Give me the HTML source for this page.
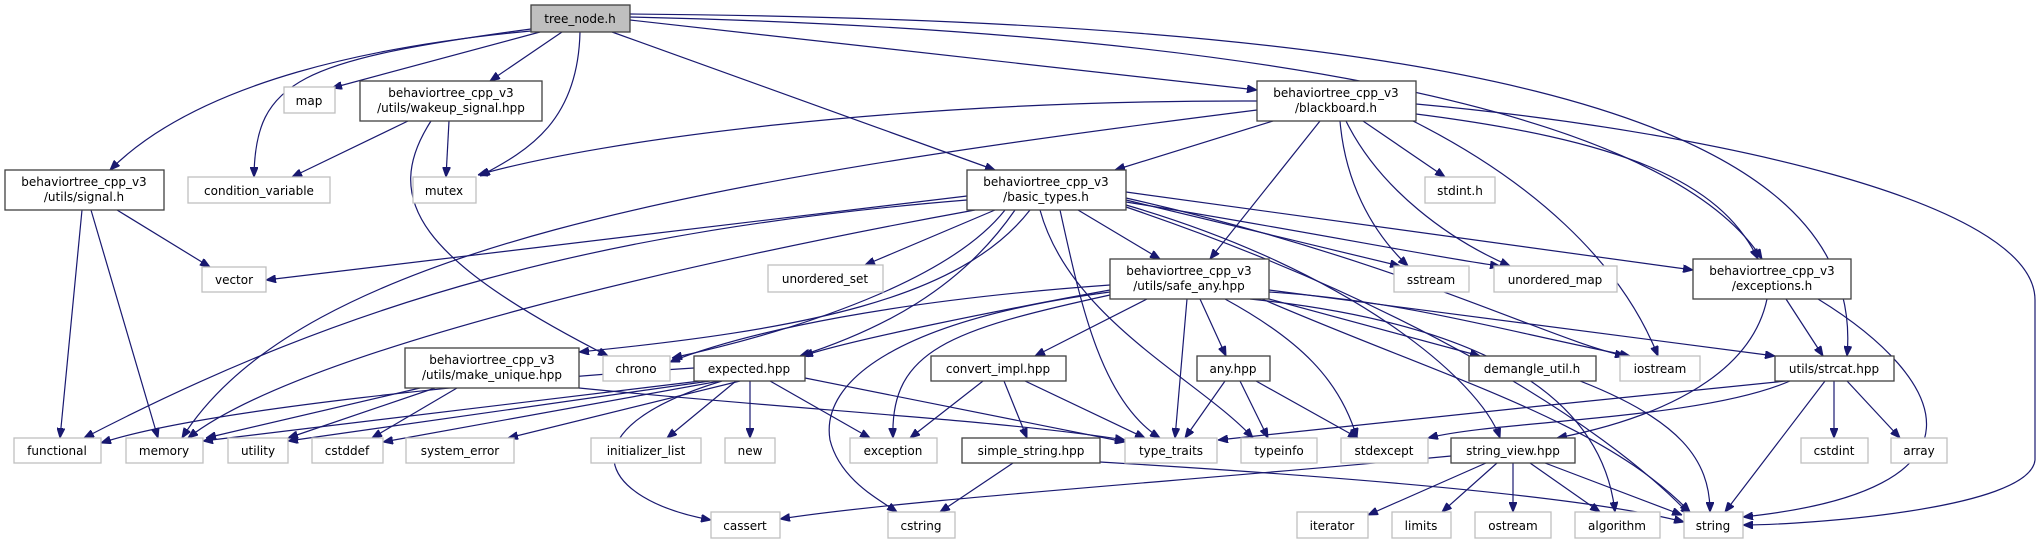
<!DOCTYPE html>
<html><head><meta charset="utf-8"><style>
html,body{margin:0;padding:0;background:#fff;}
svg{display:block;}
text{font-family:"DejaVu Sans","Liberation Sans",sans-serif;font-size:12px;fill:#000;text-anchor:middle;}
.e{fill:none;stroke:#191970;stroke-width:1.2;marker-end:url(#a);}
.s{fill:#fff;stroke:#bfbfbf;stroke-width:1.3;}
.p{fill:#fff;stroke:#404040;stroke-width:1.3;}
</style></head><body>
<svg width="2043" height="544" viewBox="0 0 2043 544" xmlns="http://www.w3.org/2000/svg">
<defs><marker id="a" markerWidth="10" markerHeight="8" refX="10" refY="4" orient="auto" markerUnits="userSpaceOnUse"><path d="M0,0 L10,4 L0,8 Z" fill="#191970" stroke="#191970"/></marker></defs>
<g>
<!-- tree_node -->
<path class="e" d="M531,31 C380,45 200,80 110,170"/>
<path class="e" d="M531,29 C300,60 255,80 254,177"/>
<path class="e" d="M540,32 L332,88"/>
<path class="e" d="M562,32 L490,81"/>
<path class="e" d="M580,32 C578,120 530,150 480,176"/>
<path class="e" d="M612,32 L995,170"/>
<path class="e" d="M630,20 L1257,90"/>
<path class="e" d="M630,17 C1200,30 1660,100 1762,259"/>
<path class="e" d="M630,14 C1400,20 1870,100 1847,356"/>
<!-- blackboard -->
<path class="e" d="M1257,101 C900,100 600,140 478,175"/>
<path class="e" d="M1257,110 C700,180 300,250 182,438"/>
<path class="e" d="M1273,121 L1115,170"/>
<path class="e" d="M1320,121 L1210,259"/>
<path class="e" d="M1340,121 C1345,180 1370,230 1408,266"/>
<path class="e" d="M1346,121 C1380,190 1450,240 1510,266"/>
<path class="e" d="M1363,121 L1445,177"/>
<path class="e" d="M1413,121 C1530,180 1620,260 1658,356"/>
<path class="e" d="M1416,114 C1620,140 1720,180 1758,259"/>
<path class="e" d="M1416,104 C1700,130 2035,200 2035,300 L2035,460 C2030,510 1800,525 1743,525"/>
<!-- wakeup -->
<path class="e" d="M408,121 L292,177"/>
<path class="e" d="M449,121 L446,177"/>
<path class="e" d="M431,121 C380,200 420,260 608,356"/>
<!-- signal -->
<path class="e" d="M82,210 L60,438"/>
<path class="e" d="M91,210 L158,438"/>
<path class="e" d="M117,210 L210,267"/>
<!-- basic_types -->
<path class="e" d="M967,196 L266,280"/>
<path class="e" d="M967,200 C600,230 350,300 84,438"/>
<path class="e" d="M975,210 C700,260 300,350 188,438"/>
<path class="e" d="M995,210 L865,265"/>
<path class="e" d="M1005,210 C950,280 800,330 672,358"/>
<path class="e" d="M1015,210 C960,290 880,330 800,356"/>
<path class="e" d="M1030,210 C960,300 800,330 579,352"/>
<path class="e" d="M1040,210 C1070,320 1200,380 1253,438"/>
<path class="e" d="M1060,210 C1080,300 1100,400 1160,438"/>
<path class="e" d="M1078,210 L1160,259"/>
<path class="e" d="M1126,205 C1350,270 1480,380 1500,438"/>
<path class="e" d="M1126,200 L1400,266"/>
<path class="e" d="M1126,202 C1300,230 1450,260 1500,266"/>
<path class="e" d="M1126,192 L1693,270"/>
<path class="e" d="M1126,198 C1400,260 1550,340 1625,356"/>
<path class="e" d="M1126,207 C1400,300 1600,420 1690,515"/>
<!-- safe_any -->
<path class="e" d="M1110,290 C1000,310 850,340 803,356"/>
<path class="e" d="M1110,285 C900,300 750,330 670,362"/>
<path class="e" d="M1110,295 C950,330 890,350 893,438"/>
<path class="e" d="M1110,292 C900,320 820,380 830,440 C840,480 880,500 897,512"/>
<path class="e" d="M1147,299 L1035,356"/>
<path class="e" d="M1187,299 L1175,438"/>
<path class="e" d="M1200,299 L1226,356"/>
<path class="e" d="M1269,299 L1480,356"/>
<path class="e" d="M1269,292 C1400,300 1500,330 1630,356"/>
<path class="e" d="M1269,290 L1775,356"/>
<path class="e" d="M1262,299 C1450,380 1600,420 1690,512"/>
<path class="e" d="M1250,299 C1450,320 1600,380 1615,512"/>
<path class="e" d="M1225,299 C1300,340 1340,380 1357,438"/>
<!-- make_unique -->
<path class="e" d="M420,388 L206,438"/>
<path class="e" d="M435,388 L288,438"/>
<path class="e" d="M457,388 L372,438"/>
<path class="e" d="M579,388 C800,410 1000,420 1125,440"/>
<!-- expected -->
<path class="e" d="M694,368 C500,380 200,410 101,443"/>
<path class="e" d="M700,381 L203,441"/>
<path class="e" d="M710,381 L288,441"/>
<path class="e" d="M720,381 L383,442"/>
<path class="e" d="M740,381 L508,438"/>
<path class="e" d="M736,381 L667,438"/>
<path class="e" d="M750,381 L750,438"/>
<path class="e" d="M770,381 L870,438"/>
<path class="e" d="M805,378 L1125,442"/>
<path class="e" d="M722,381 C560,430 600,500 711,520"/>
<!-- convert_impl -->
<path class="e" d="M983,381 L910,438"/>
<path class="e" d="M1004,381 L1027,438"/>
<path class="e" d="M1025,381 L1145,438"/>
<!-- simple_string -->
<path class="e" d="M1013,463 L940,512"/>
<path class="e" d="M1100,462 C1400,480 1600,500 1684,522"/>
<!-- any -->
<path class="e" d="M1225,381 L1185,438"/>
<path class="e" d="M1240,381 L1268,438"/>
<path class="e" d="M1256,381 L1358,438"/>
<!-- demangle -->
<path class="e" d="M1580,381 C1680,420 1710,460 1710,512"/>
<!-- exceptions -->
<path class="e" d="M1786,299 L1823,356"/>
<path class="e" d="M1767,299 C1750,380 1650,420 1557,438"/>
<path class="e" d="M1818,299 C1950,380 2000,490 1743,517"/>
<!-- strcat -->
<path class="e" d="M1786,381 C1600,400 1400,420 1218,440"/>
<path class="e" d="M1790,381 C1700,420 1500,420 1428,438"/>
<path class="e" d="M1825,381 L1725,512"/>
<path class="e" d="M1834,381 L1834,438"/>
<path class="e" d="M1847,381 L1900,438"/>
<!-- string_view -->
<path class="e" d="M1451,456 C1200,480 900,500 780,519"/>
<path class="e" d="M1486,463 L1368,515"/>
<path class="e" d="M1497,463 L1442,512"/>
<path class="e" d="M1513,463 L1513,512"/>
<path class="e" d="M1530,463 L1600,512"/>
<path class="e" d="M1545,463 L1682,515"/>
</g>
<g>
<rect x="531" y="5" width="99" height="27" fill="#bfbfbf" stroke="#404040" stroke-width="1.3"/><text x="580" y="23">tree_node.h</text>
<rect class="s" x="284" y="87" width="51" height="26"/><text x="309" y="105">map</text>
<rect class="p" x="360" y="81" width="182" height="40"/><text x="451" y="97">behaviortree_cpp_v3</text><text x="451" y="112">/utils/wakeup_signal.hpp</text>
<rect class="p" x="1257" y="81" width="159" height="40"/><text x="1336" y="97">behaviortree_cpp_v3</text><text x="1336" y="112">/blackboard.h</text>
<rect class="p" x="5" y="170" width="159" height="40"/><text x="84" y="186">behaviortree_cpp_v3</text><text x="84" y="201">/utils/signal.h</text>
<rect class="s" x="188" y="177" width="142" height="26"/><text x="259" y="195">condition_variable</text>
<rect class="s" x="413" y="177" width="63" height="26"/><text x="444" y="195">mutex</text>
<rect class="p" x="967" y="170" width="159" height="40"/><text x="1046" y="186">behaviortree_cpp_v3</text><text x="1046" y="201">/basic_types.h</text>
<rect class="s" x="1425" y="177" width="70" height="26"/><text x="1460" y="195">stdint.h</text>
<rect class="s" x="202" y="267" width="64" height="25"/><text x="234" y="284">vector</text>
<rect class="s" x="768" y="265" width="115" height="27"/><text x="825" y="283">unordered_set</text>
<rect class="p" x="1110" y="259" width="159" height="40"/><text x="1189" y="275">behaviortree_cpp_v3</text><text x="1189" y="290">/utils/safe_any.hpp</text>
<rect class="s" x="1394" y="266" width="75" height="26"/><text x="1431" y="284">sstream</text>
<rect class="s" x="1494" y="266" width="123" height="26"/><text x="1555" y="284">unordered_map</text>
<rect class="p" x="1693" y="259" width="158" height="40"/><text x="1772" y="275">behaviortree_cpp_v3</text><text x="1772" y="290">/exceptions.h</text>
<rect class="p" x="405" y="348" width="174" height="40"/><text x="492" y="364">behaviortree_cpp_v3</text><text x="492" y="379">/utils/make_unique.hpp</text>
<rect class="s" x="603" y="356" width="67" height="25"/><text x="636" y="373">chrono</text>
<rect class="p" x="694" y="356" width="111" height="25"/><text x="749" y="373">expected.hpp</text>
<rect class="p" x="931" y="356" width="135" height="25"/><text x="998" y="373">convert_impl.hpp</text>
<rect class="p" x="1197" y="356" width="73" height="25"/><text x="1233" y="373">any.hpp</text>
<rect class="p" x="1469" y="356" width="127" height="25"/><text x="1532" y="373">demangle_util.h</text>
<rect class="s" x="1620" y="356" width="80" height="25"/><text x="1660" y="373">iostream</text>
<rect class="p" x="1775" y="356" width="119" height="25"/><text x="1834" y="373">utils/strcat.hpp</text>
<rect class="s" x="14" y="438" width="87" height="25"/><text x="57" y="455">functional</text>
<rect class="s" x="126" y="438" width="77" height="25"/><text x="164" y="455">memory</text>
<rect class="s" x="228" y="438" width="60" height="25"/><text x="258" y="455">utility</text>
<rect class="s" x="312" y="438" width="71" height="25"/><text x="347" y="455">cstddef</text>
<rect class="s" x="406" y="438" width="108" height="25"/><text x="460" y="455">system_error</text>
<rect class="s" x="591" y="438" width="110" height="25"/><text x="646" y="455">initializer_list</text>
<rect class="s" x="725" y="438" width="50" height="25"/><text x="750" y="455">new</text>
<rect class="s" x="850" y="438" width="87" height="25"/><text x="893" y="455">exception</text>
<rect class="p" x="962" y="438" width="138" height="25"/><text x="1031" y="455">simple_string.hpp</text>
<rect class="s" x="1125" y="438" width="92" height="25"/><text x="1171" y="455">type_traits</text>
<rect class="s" x="1241" y="438" width="76" height="25"/><text x="1279" y="455">typeinfo</text>
<rect class="s" x="1341" y="438" width="87" height="25"/><text x="1384" y="455">stdexcept</text>
<rect class="p" x="1451" y="438" width="124" height="25"/><text x="1513" y="455">string_view.hpp</text>
<rect class="s" x="1801" y="438" width="67" height="25"/><text x="1834" y="455">cstdint</text>
<rect class="s" x="1891" y="438" width="56" height="25"/><text x="1919" y="455">array</text>
<rect class="s" x="711" y="512" width="69" height="26"/><text x="745" y="530">cassert</text>
<rect class="s" x="888" y="512" width="67" height="26"/><text x="921" y="530">cstring</text>
<rect class="s" x="1297" y="512" width="71" height="26"/><text x="1332" y="530">iterator</text>
<rect class="s" x="1392" y="512" width="59" height="26"/><text x="1421" y="530">limits</text>
<rect class="s" x="1475" y="512" width="76" height="26"/><text x="1513" y="530">ostream</text>
<rect class="s" x="1575" y="512" width="85" height="26"/><text x="1617" y="530">algorithm</text>
<rect class="s" x="1684" y="512" width="59" height="26"/><text x="1713" y="530">string</text>
</g>
</svg>
</body></html>
